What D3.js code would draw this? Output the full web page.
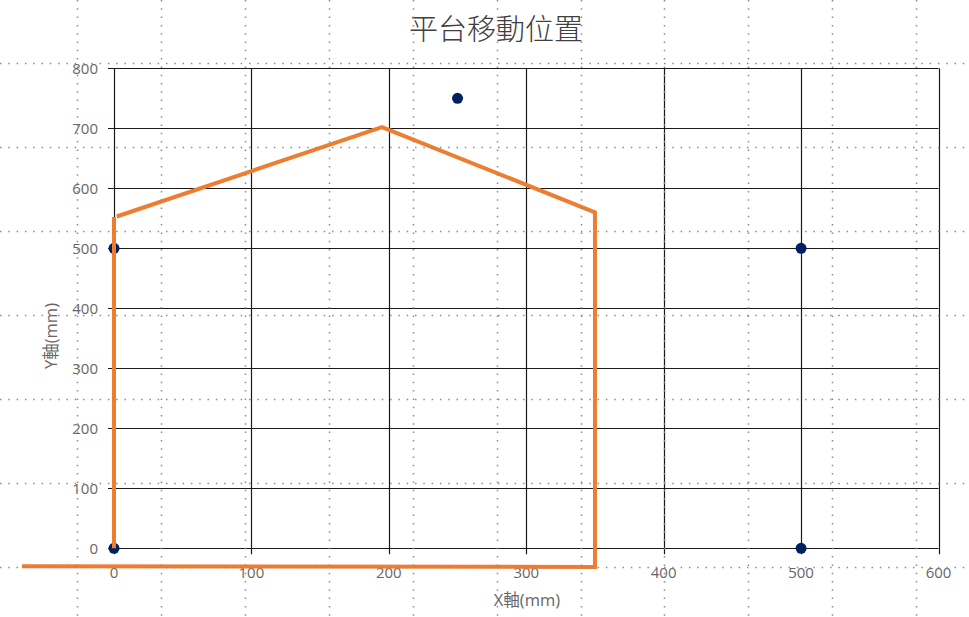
<!DOCTYPE html>
<html><head><meta charset="utf-8">
<script src="https://cdn.jsdelivr.net/npm/d3@7"></script>
<style>
html,body{margin:0;padding:0;background:#fff;}
svg{display:block;}
</style></head>
<body>
<svg id="c" width="969" height="617"></svg>
<script>
// Data
const title = "平台移動位置";
const xTitle = "X軸(mm)";
const yTitle = "Y軸(mm)";
const xTicks = [0, 100, 200, 300, 400, 500, 600];
const yTicks = [0, 100, 200, 300, 400, 500, 600, 700, 800];
const pointX = [0, 0, 250, 500, 500];
const pointY = [0, 500, 750, 500, 0];
// orange outline shape (data units)
const shapeX = [0, 0];
const shapeY = [0, 552];
const roofX = [2, 195, 350, 350, -67];
const roofY = [553, 702, 560, -31, -30];
// background sheet dotted grid (pixel cells of the sheet)
const sheetCols = [77, 161, 245, 329, 413, 497, 581, 664, 748, 832, 916];
const sheetRows = [63, 147, 231, 315, 399, 483, 567];

const svg = d3.select("#c");
const W = 969, H = 617;
const x = d3.scaleLinear().domain([0, 600]).range([114, 938.5]);
const y = d3.scaleLinear().domain([0, 800]).range([548.3, 68.3]);

const gridColor = "#1a1a1a";
const labelColor = "#666666";
const font = "'Open Sans', 'Liberation Sans', Arial, sans-serif";

// Gridlines (with outward tick extension)
svg.append("g").selectAll("line").data(yTicks).join("line")
  .attr("x1", x(0) - 6).attr("x2", x(600))
  .attr("y1", d => Math.round(y(d)) + 0.5).attr("y2", d => Math.round(y(d)) + 0.5)
  .attr("stroke", gridColor).attr("stroke-width", 1.2);
svg.append("g").selectAll("line").data(xTicks).join("line")
  .attr("y1", y(800)).attr("y2", y(0) + 6)
  .attr("x1", d => Math.round(x(d)) + 0.5).attr("x2", d => Math.round(x(d)) + 0.5)
  .attr("stroke", gridColor).attr("stroke-width", 1.2);

// Tick labels
svg.append("g").selectAll("text").data(yTicks).join("text")
  .attr("x", 98).attr("y", d => y(d)).attr("dy", "0.36em")
  .attr("text-anchor", "end").attr("fill", labelColor)
  .style("font-family", font).style("font-size", "15px")
  .text(d => d);
svg.append("g").selectAll("text").data(xTicks).join("text")
  .attr("x", d => x(d)).attr("y", 578)
  .attr("text-anchor", "middle").attr("fill", labelColor)
  .style("font-family", font).style("font-size", "15px")
  .text(d => d);

// Axis titles
svg.append("text").attr("x", 527).attr("y", 606)
  .attr("text-anchor", "middle").attr("fill", labelColor)
  .style("font-family", "'Open Sans', 'Noto Sans CJK TC', sans-serif").style("font-size", "16.5px")
  .text(xTitle);
svg.append("text")
  .attr("transform", "translate(57,336) rotate(-90)")
  .attr("text-anchor", "middle").attr("fill", labelColor)
  .style("font-family", "'Open Sans', 'Noto Sans CJK TC', sans-serif").style("font-size", "16.5px")
  .text(yTitle);

// Chart title
svg.append("text").attr("x", 496).attr("y", 40)
  .attr("text-anchor", "middle").attr("fill", "#404040")
  .style("font-family", "'Noto Sans CJK TC', sans-serif").style("font-size", "29px")
  .style("font-weight", "300")
  .text(title);

// Points
svg.append("g").selectAll("circle").data(pointX.map((v, i) => [v, pointY[i]])).join("circle")
  .attr("cx", d => x(d[0])).attr("cy", d => y(d[1])).attr("r", 5.5)
  .attr("fill", "#002060");

// Orange shape
const line = d3.line().x(d => x(d[0])).y(d => y(d[1]));
svg.append("path").attr("d", line(shapeX.map((v, i) => [v, shapeY[i]])))
  .attr("fill", "none").attr("stroke", "#ED7D31").attr("stroke-width", 4);
svg.append("path").attr("d", line(roofX.map((v, i) => [v, roofY[i]])))
  .attr("fill", "none").attr("stroke", "#ED7D31").attr("stroke-width", 4)
  .attr("stroke-linejoin", "miter");

// Sheet dotted grid on top
const dots = svg.append("g").attr("stroke", "#8c8c8c").attr("stroke-width", 1.5)
  .attr("stroke-dasharray", "1.5,6.8");
dots.selectAll("line.v").data(sheetCols).join("line").attr("class", "v")
  .attr("x1", d => d + 0.5).attr("x2", d => d + 0.5).attr("y1", 0).attr("y2", H);
dots.selectAll("line.h").data(sheetRows).join("line").attr("class", "h")
  .attr("y1", d => d + 0.5).attr("y2", d => d + 0.5).attr("x1", 0).attr("x2", W);
</script>
</body></html>
